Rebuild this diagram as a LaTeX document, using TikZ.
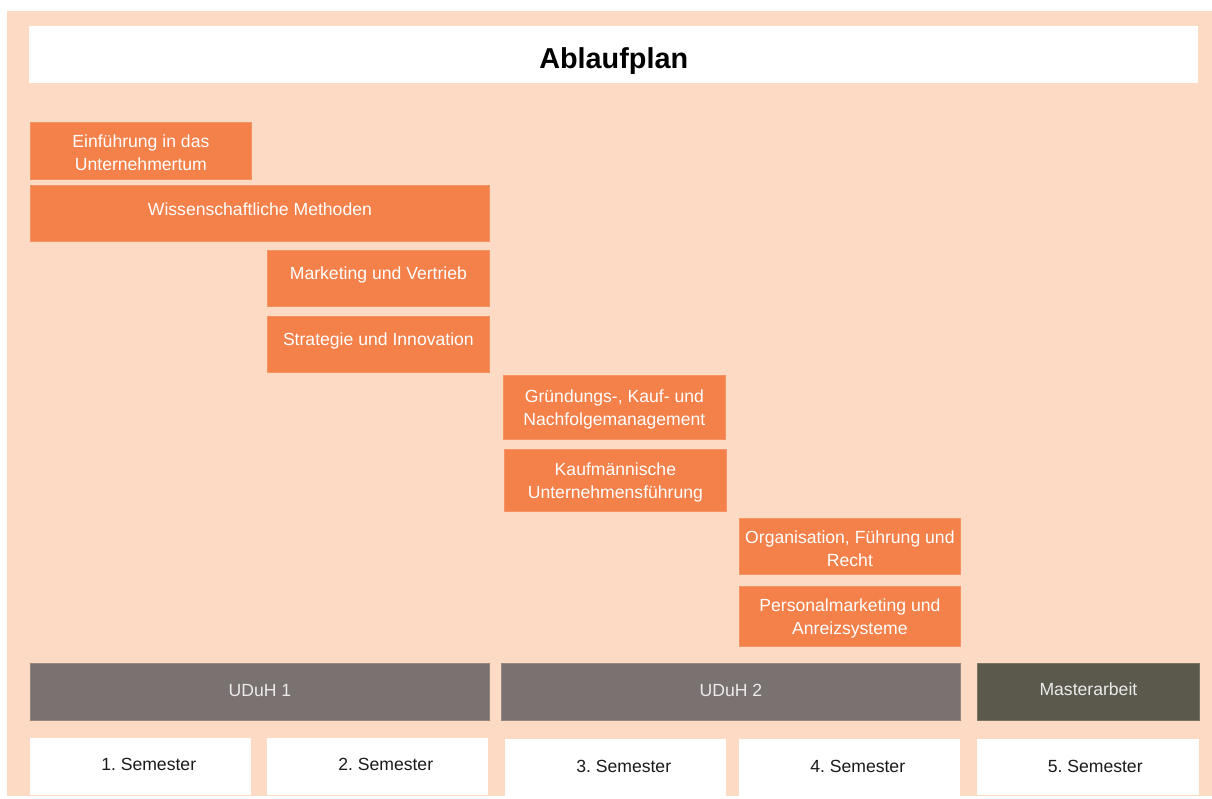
\documentclass[tikz,border=0pt]{standalone}
\usepackage{fontspec}
\setmainfont{Liberation Sans}
\frenchspacing
\definecolor{peach}{HTML}{FCDAC4}
\definecolor{orng}{HTML}{F4804A}
\definecolor{uduh}{HTML}{7A7270}
\definecolor{olive}{HTML}{5B594C}
\definecolor{semtext}{HTML}{1A1A1A}
\tikzset{
  base/.style={anchor=north west, inner sep=0pt},
  modbox/.style={base, fill=orng, draw=orng!85!white, line width=0.8pt},
  phasebox/.style={base, fill=uduh, draw=uduh!80!peach, line width=0.8pt},
  thesisbox/.style={base, fill=olive, draw=olive!80!peach, line width=0.8pt},
  sembox/.style={base, fill=white},
  titlebox/.style={base, fill=white},
  txt/.style={inner sep=0pt, align=center, font=\fontsize{17.6}{23}\selectfont},
  modtxt/.style={txt, text=white},
  phasetxt/.style={txt, text=white!92!black},
  semtxt/.style={txt, text=semtext},
  titletxt/.style={inner sep=0pt, font=\fontsize{28.8}{34}\selectfont\bfseries}
}
\begin{document}
\begin{tikzpicture}[x=1pt,y=-1pt]
\useasboundingbox[fill=white] (0,0) rectangle (1212,799);
\fill[peach] (7,11) rectangle (1212,796);
\node[titlebox, minimum width=1169pt, minimum height=57pt] (title) at (29,26) {};
\node[titletxt, yshift=-6pt] (title-t) at (title.center) {Ablaufplan};
% modules
\node[modbox, minimum width=221pt, minimum height=57pt] (einf) at (30,122) {};
\node[modtxt, yshift=-2pt] (einf-t) at (einf.center) {Einführung in das\\Unternehmertum};
\node[modbox, minimum width=459pt, minimum height=56pt] (wiss) at (30,185) {};
\node[modtxt, yshift=4pt] (wiss-t) at (wiss.center) {Wissenschaftliche Methoden};
\node[modbox, minimum width=222pt, minimum height=56pt] (mark) at (267,250) {};
\node[modtxt, yshift=3pt] (mark-t) at (mark.center) {Marketing und Vertrieb};
\node[modbox, minimum width=222pt, minimum height=56pt] (strat) at (267,316) {};
\node[modtxt, yshift=3pt] (strat-t) at (strat.center) {Strategie und Innovation};
\node[modbox, minimum width=222pt, minimum height=64pt] (gruend) at (503,375) {};
\node[modtxt, yshift=-2pt] (gruend-t) at (gruend.center) {Gründungs-, Kauf- und\\Nachfolgemanagement};
\node[modbox, minimum width=222pt, minimum height=62pt] (kauf) at (504,449) {};
\node[modtxt, yshift=-2.5pt] (kauf-t) at (kauf.center) {Kaufmännische\\Unternehmensführung};
\node[modbox, minimum width=221pt, minimum height=56pt] (orga) at (739,518) {};
\node[modtxt, yshift=-2pt] (orga-t) at (orga.center) {Organisation, Führung und\\Recht};
\node[modbox, minimum width=221pt, minimum height=60pt] (pers) at (739,586) {};
\node[modtxt, yshift=-2.5pt] (pers-t) at (pers.center) {Personalmarketing und\\Anreizsysteme};
% phases
\node[phasebox, minimum width=459pt, minimum height=57pt] (u1) at (30,663) {};
\node[phasetxt, yshift=1pt] (u1-t) at (u1.center) {UDuH 1};
\node[phasebox, minimum width=459pt, minimum height=57pt] (u2) at (501,663) {};
\node[phasetxt, yshift=1pt] (u2-t) at (u2.center) {UDuH 2};
\node[thesisbox, minimum width=222pt, minimum height=57pt] (ma) at (977,663) {};
\node[phasetxt, yshift=2.5pt] (ma-t) at (ma.center) {Masterarbeit};
% semesters
\node[sembox, minimum width=221pt, minimum height=57pt] (s1) at (30,738) {};
\node[semtxt, xshift=8pt, yshift=2pt] (s1-t) at (s1.center) {1. Semester};
\node[sembox, minimum width=221pt, minimum height=57pt] (s2) at (267,738) {};
\node[semtxt, xshift=8pt, yshift=2pt] (s2-t) at (s2.center) {2. Semester};
\node[sembox, minimum width=221pt, minimum height=57pt] (s3) at (505,739) {};
\node[semtxt, xshift=8pt, yshift=1pt] (s3-t) at (s3.center) {3. Semester};
\node[sembox, minimum width=221pt, minimum height=57pt] (s4) at (739,739) {};
\node[semtxt, xshift=8pt, yshift=1pt] (s4-t) at (s4.center) {4. Semester};
\node[sembox, minimum width=222pt, minimum height=56pt] (s5) at (977,739) {};
\node[semtxt, xshift=7pt, yshift=1pt] (s5-t) at (s5.center) {5. Semester};
\end{tikzpicture}
\end{document}
